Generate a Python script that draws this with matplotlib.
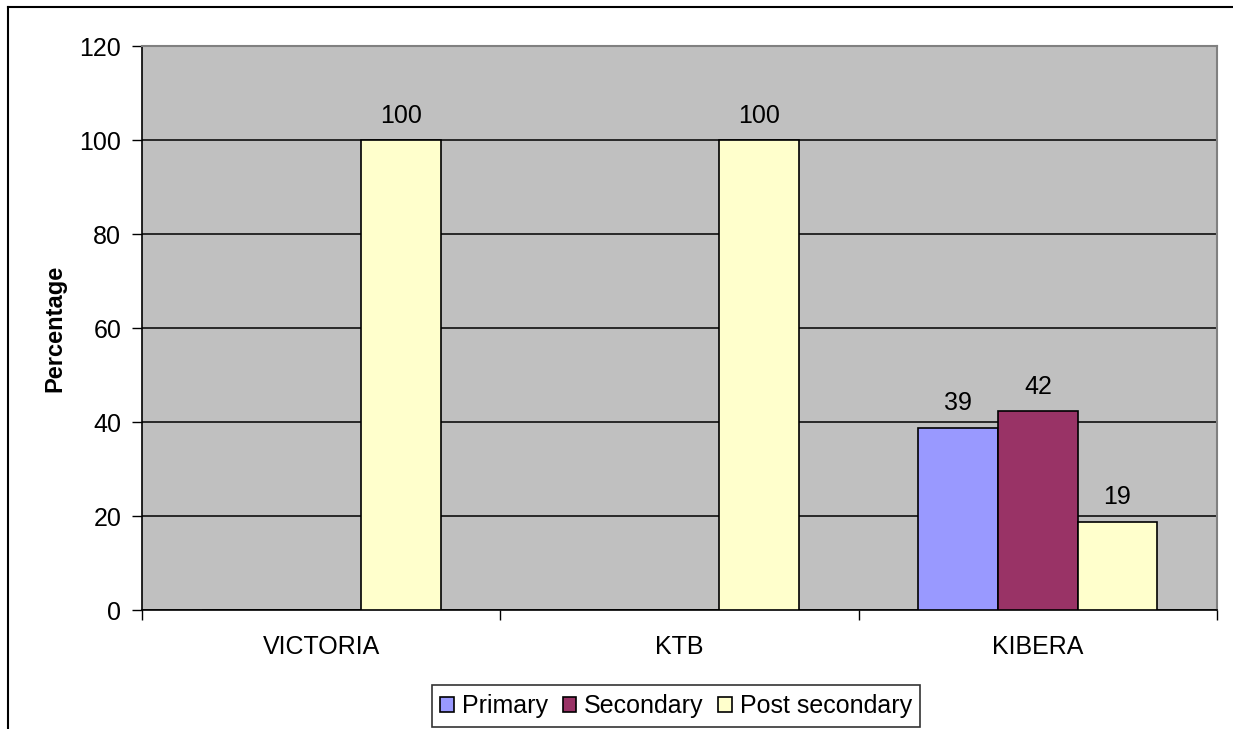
import numpy as np
import matplotlib
matplotlib.use('Agg')
import matplotlib.pyplot as plt
from matplotlib.lines import Line2D

plt.rcParams['font.family'] = ['Liberation Sans', 'DejaVu Sans']

sites = ['VICTORIA', 'KTB', 'KIBERA']
series = ['Primary', 'Secondary', 'Post secondary']
primary = [0, 0, 38.8]
secondary = [0, 0, 42.4]
post_secondary = [100, 100, 18.8]
colors = ['#9999FF', '#993366', '#FFFFCC']
yticks = [0, 20, 40, 60, 80, 100, 120]

fs = 18
fig = plt.figure(figsize=(12.33, 7.29), dpi=100)
ax = fig.add_axes([142 / 1233, 1 - 610 / 729, (1217 - 142) / 1233, (610 - 46) / 729])
ax.set_facecolor('#C0C0C0')

x = np.arange(len(sites))
w = 1 / 4.5
for i, (name, vals) in enumerate(zip(series, [primary, secondary, post_secondary])):
    bars = ax.bar(x + (i - 1) * w, vals, w, color=colors[i], edgecolor='black',
                  linewidth=1.2, label=name, zorder=3)
    for b, v in zip(bars, vals):
        if v > 0:
            ax.text(b.get_x() + b.get_width() / 2, v + 2.6, '%.0f' % v,
                    ha='center', va='bottom', fontsize=fs, zorder=4)

ax.set_xlim(-0.5, len(sites) - 0.5)
ax.set_ylim(0, 120)
ax.set_yticks(yticks)
ax.yaxis.grid(True, color='black', linewidth=1.1, zorder=1)
ax.set_axisbelow(True)

ax.set_xticks(x)
ax.set_xticklabels(sites, fontsize=fs)
ax.set_xticks(np.arange(len(sites) + 1) - 0.5, minor=True)
ax.tick_params(axis='x', which='major', length=0, pad=18)
ax.tick_params(axis='x', which='minor', length=7, width=1, direction='out')
ax.tick_params(axis='y', length=7, width=1, labelsize=fs, pad=8)

for s in ['top', 'right']:
    ax.spines[s].set_color('#808080')
    ax.spines[s].set_linewidth(1.5)
for s in ['left', 'bottom']:
    ax.spines[s].set_color('black')
    ax.spines[s].set_linewidth(1.2)

ax.set_ylabel('Percentage', fontsize=17, fontweight='bold', labelpad=9)

leg = fig.legend(loc='center', bbox_to_anchor=(676 / 1233, 1 - 706 / 729), ncol=3,
                 fontsize=fs, frameon=True, fancybox=False, handlelength=0.55,
                 handleheight=0.55, handletextpad=0.3, columnspacing=0.6,
                 borderpad=0.35, borderaxespad=0)
leg.get_frame().set_edgecolor('black')
leg.get_frame().set_linewidth(1.2)

# outer chart border (only top and left visible)
fig.add_artist(Line2D([8 / 1233, 1], [1 - 7 / 729, 1 - 7 / 729], color='black',
                      linewidth=1.5, transform=fig.transFigure))
fig.add_artist(Line2D([8 / 1233, 8 / 1233], [0, 1 - 7 / 729], color='black',
                      linewidth=1.5, transform=fig.transFigure))

fig.savefig('out.png', dpi=100)
